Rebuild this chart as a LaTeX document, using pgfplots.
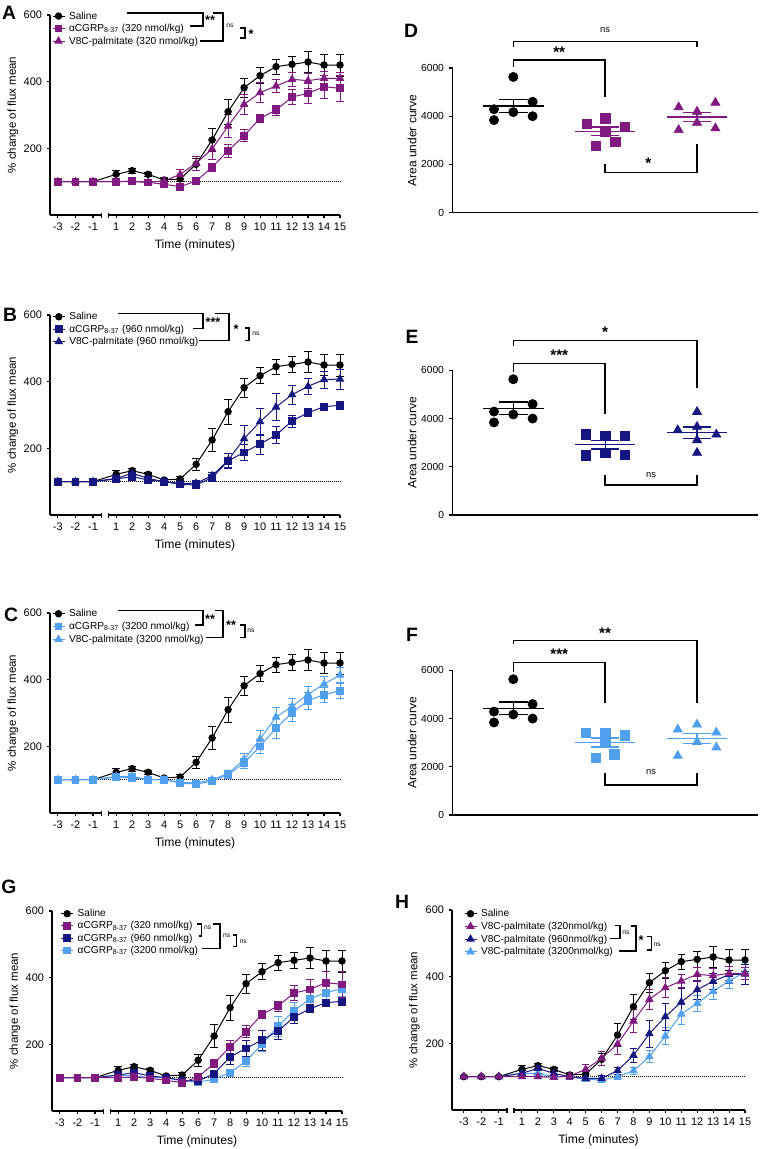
\documentclass[border=0pt]{standalone}
\usepackage{pgfplots}
\pgfplotsset{compat=1.18}
\usepackage{pgfplotstable}
\usepackage{fontspec}
\setmainfont{Liberation Sans}

\definecolor{cpur}{RGB}{128,26,128}
\definecolor{cnav}{RGB}{22,22,128}
\definecolor{clb}{RGB}{80,160,238}

% minutes -3,-2,-1 sit at -2.65,-1.55,-0.45 (broken time axis)
\pgfplotstableread{
x y e
-2.65 100 3
-1.55 100 3
-0.45 100 3
1 122 12
2 133 8
3 122 6
4 105 5
5 108 8
6 152 18
7 225 35
8 310 37
9 382 28
10 418 24
11 445 23
12 452 23
13 459 32
14 450 32
15 450 33
}\saline
\pgfplotstableread{
x y e
-2.65 100 3
-1.55 100 3
-0.45 100 3
1 100 3
2 102 4
3 98 4
4 92 5
5 85 5
6 102 6
7 143 12
8 193 20
9 238 18
10 290 12
11 315 15
12 354 22
13 365 30
14 385 35
15 380 38
}\cA
\pgfplotstableread{
x y e
-2.65 100 3
-1.55 100 3
-0.45 100 3
1 100 4
2 100 4
3 98 5
4 102 10
5 122 15
6 155 22
7 198 30
8 267 35
9 332 30
10 367 30
11 387 20
12 407 22
13 403 22
14 410 20
15 410 18
}\vA
\pgfplotstableread{
x y e
-2.65 100 3
-1.55 100 3
-0.45 100 3
1 108 10
2 115 12
3 105 10
4 100 8
5 92 8
6 90 8
7 112 10
8 162 22
9 188 25
10 213 30
11 240 25
12 282 18
13 307 12
14 325 10
15 329 12
}\cB
\pgfplotstableread{
x y e
-2.65 100 3
-1.55 100 3
-0.45 100 3
1 110 10
2 125 15
3 110 15
4 100 8
5 95 8
6 95 8
7 118 10
8 164 20
9 229 40
10 280 40
11 324 40
12 361 28
13 386 25
14 406 25
15 408 30
}\vB
\pgfplotstableread{
x y e
-2.65 100 3
-1.55 100 3
-0.45 100 3
1 108 8
2 105 8
3 100 6
4 100 6
5 90 6
6 87 6
7 95 8
8 115 10
9 150 15
10 200 20
11 255 30
12 301 25
13 337 25
14 355 22
15 367 22
}\cC
\pgfplotstableread{
x y e
-2.65 100 3
-1.55 100 3
-0.45 100 3
1 110 8
2 110 8
3 100 6
4 100 6
5 92 6
6 90 6
7 100 8
8 118 10
9 160 18
10 222 25
11 288 30
12 320 25
13 356 25
14 387 22
15 414 22
}\vC

\pgfplotsset{
  ts/.style={
    scale only axis, width=217.5pt, height=150pt,
    xmin=-3.14, xmax=15, ymin=0, ymax=600,
    axis lines=left, axis line style={-, line width=0.9pt},
    x axis line style={draw=none},
    xtick={-2.65,-1.55,-0.45,1,2,3,4,5,6,7,8,9,10,11,12,13,14,15},
    xticklabels={-3,-2,-1,1,2,3,4,5,6,7,8,9,10,11,12,13,14,15},
    ytick={200,400,600},
    tick align=outside, major tick length=2.5pt,
    every tick/.style={black, line width=0.8pt},
    ticklabel style={font=\fontsize{8.2}{9}\selectfont},
    /pgf/number format/assume math mode=true,
    xlabel={Time (minutes)},
    ylabel={\% change of flux mean},
    xlabel style={font=\fontsize{9.1}{10}\selectfont, at={(axis description cs:0.5,-0.15)}, anchor=center},
    ylabel style={font=\fontsize{8.6}{9}\selectfont, at={(axis description cs:-0.128,0.5)}, anchor=center},
    clip=false,
    legend cell align=left,
    legend image code/.code={\draw[mark repeat=2,mark phase=2] plot coordinates {(0pt,0pt) (4.5pt,0pt) (9pt,0pt)};},
    legend style={draw=none, fill=none, inner sep=0pt, outer sep=0pt, anchor=north west,
      font=\fontsize{7.6}{8}\selectfont, column sep=3pt,
      nodes={inner sep=0pt, text height=6pt, text depth=1.6pt}},
  },
  sal/.style={black, line width=0.75pt, mark=*, mark size=2.4pt},
  sq/.style={line width=0.75pt, mark=square*, mark size=2.5pt},
  tri/.style={line width=0.75pt, mark=triangle*, mark size=3pt},
  eb/.style={/pgfplots/error bars/y dir=both, /pgfplots/error bars/y explicit,
    /pgfplots/error bars/error bar style={line width=0.75pt},
    /pgfplots/error bars/error mark options={rotate=90, mark size=2.8pt, line width=0.75pt}},
  sc/.style={
    scale only axis, width=228.75pt, height=108.5pt,
    xmin=0.34, xmax=3.66, ymin=0, ymax=6000,
    axis lines=left, axis line style={-, line width=1pt},
    xtick=\empty, ytick={0,2000,4000,6000},
    tick align=outside, major tick length=3pt,
    every tick/.style={black, line width=0.8pt},
    ticklabel style={font=\fontsize{7.7}{9}\selectfont},
    /pgf/number format/assume math mode=true,
    /pgf/number format/1000 sep={},
    scaled y ticks=false,
    ylabel={Area under curve},
    ylabel style={font=\fontsize{9}{10}\selectfont, at={(axis description cs:-0.133,0.5)}, anchor=center},
    clip=false,
  },
  pts/.style={only marks, mark size=3.5pt},
  msem/.style={only marks, mark=-, mark size=22.7pt, mark options={line width=1pt},
    /pgfplots/error bars/y dir=both, /pgfplots/error bars/y explicit,
    /pgfplots/error bars/error bar style={line width=1pt},
    /pgfplots/error bars/error mark options={rotate=90, mark size=10.7pt, line width=1pt}},
}
\tikzset{
  br/.style={line width=1.1pt},
  ast/.style={font=\fontsize{11.5}{12}\selectfont\bfseries, inner sep=0pt},
  asl/.style={font=\fontsize{9.5}{10}\selectfont\bfseries, inner sep=0pt},
  nsl/.style={font=\fontsize{7}{7}\selectfont, inner sep=0pt},
  nss/.style={font=\fontsize{5}{5}\selectfont, inner sep=0pt},
  lbl/.style={font=\fontsize{14.5}{15}\selectfont\bfseries, inner sep=0pt},
}
\newcommand{\refline}{\addplot[forget plot, black, densely dotted, line width=0.5pt] coordinates {(-2.65,100) (15,100)};}
\newcommand{\brokenx}[1]{%
  \draw[line width=0.9pt] (axis cs:#1,0) -- (axis cs:0.06,0);
  \draw[line width=0.9pt] (axis cs:0.5,0) -- (axis cs:15,0);
  \draw[line width=0.8pt] (axis cs:0.06,0) ++(0pt,1.5pt) -- ++(0pt,-4pt);
  \draw[line width=0.8pt] (axis cs:0.5,0) ++(0pt,1.5pt) -- ++(0pt,-4pt);}

\begin{document}
\begin{tikzpicture}
\useasboundingbox (0,0) rectangle (573pt,-861.75pt);

% ---------- A ----------
\begin{axis}[ts, at={(37.5pt,-161.25pt)}, anchor=south west,
  legend style={at={(axis description cs:0.007,1.02)}, row sep=1.8pt}]
\refline
\addplot[forget plot, sal, eb] table[y error=e] {\saline};
\addplot[forget plot, tri, cpur, eb] table[y error=e] {\vA};
\addplot[forget plot, sq, cpur, eb] table[y error=e] {\cA};
\addlegendimage{sal}\addlegendentry{Saline}
\addlegendimage{sq, cpur}\addlegendentry{αCGRP\textsubscript{8-37} (320 nmol/kg)}
\addlegendimage{tri, cpur}\addlegendentry{V8C-palmitate (320 nmol/kg)}
\brokenx{-3.14}
\end{axis}

% ---------- B ----------
\begin{axis}[ts, at={(37.5pt,-386.25pt)}, anchor=south west,
  legend style={at={(axis description cs:0.008,1.0165)}, row sep=1.7pt}]
\refline
\addplot[forget plot, sal, eb] table[y error=e] {\saline};
\addplot[forget plot, tri, cnav, eb] table[y error=e] {\vB};
\addplot[forget plot, sq, cnav, eb] table[y error=e] {\cB};
\addlegendimage{sal}\addlegendentry{Saline}
\addlegendimage{sq, cnav}\addlegendentry{αCGRP\textsubscript{8-37} (960 nmol/kg)}
\addlegendimage{tri, cnav}\addlegendentry{V8C-palmitate (960 nmol/kg)}
\brokenx{-3.14}
\end{axis}

% ---------- C ----------
\begin{axis}[ts, at={(37.5pt,-609.75pt)}, anchor=south west,
  legend style={at={(axis description cs:0.007,1.0215)}, row sep=2pt}]
\refline
\addplot[forget plot, sal, eb] table[y error=e] {\saline};
\addplot[forget plot, tri, clb, eb] table[y error=e] {\vC};
\addplot[forget plot, sq, clb, eb] table[y error=e] {\cC};
\addlegendimage{sal}\addlegendentry{Saline}
\addlegendimage{sq, clb}\addlegendentry{αCGRP\textsubscript{8-37} (3200 nmol/kg)}
\addlegendimage{tri, clb}\addlegendentry{V8C-palmitate (3200 nmol/kg)}
\brokenx{-3.14}
\end{axis}

% ---------- G ----------
\begin{axis}[ts, at={(39pt,-833.25pt)}, anchor=south west,
  legend style={at={(axis description cs:0.03,1.0115)}, row sep=1.55pt}]
\refline
\addplot[forget plot, sal, eb] table[y error=e] {\saline};
\addplot[forget plot, sq, clb, eb] table[y error=e] {\cC};
\addplot[forget plot, sq, cnav, eb] table[y error=e] {\cB};
\addplot[forget plot, sq, cpur, eb] table[y error=e] {\cA};
\addlegendimage{sal}\addlegendentry{Saline}
\addlegendimage{sq, cpur}\addlegendentry{αCGRP\textsubscript{8-37} (320 nmol/kg)}
\addlegendimage{sq, cnav}\addlegendentry{αCGRP\textsubscript{8-37} (960 nmol/kg)}
\addlegendimage{sq, clb}\addlegendentry{αCGRP\textsubscript{8-37} (3200 nmol/kg)}
\brokenx{-3.14}
\end{axis}

% ---------- H ----------
\begin{axis}[ts, at={(339pt,-832.5pt)}, anchor=south west, width=219.75pt, xmin=-3.39,
  legend style={at={(axis description cs:0.041,1.0065)}, row sep=1.9pt}]
\refline
\addplot[forget plot, sal, eb] table[y error=e] {\saline};
\addplot[forget plot, tri, clb, eb] table[y error=e] {\vC};
\addplot[forget plot, tri, cnav, eb] table[y error=e] {\vB};
\addplot[forget plot, tri, cpur, eb] table[y error=e] {\vA};
\addlegendimage{sal}\addlegendentry{Saline}
\addlegendimage{tri, cpur}\addlegendentry{V8C-palmitate (320nmol/kg)}
\addlegendimage{tri, cnav}\addlegendentry{V8C-palmitate (960nmol/kg)}
\addlegendimage{tri, clb}\addlegendentry{V8C-palmitate (3200nmol/kg)}
\brokenx{-3.39}
\end{axis}

% ---------- D ----------
\begin{axis}[sc, at={(339.5pt,-159.5pt)}, anchor=south west]
\addplot[black, pts, mark=*] coordinates {(1,5630) (0.79,4290) (1.21,4600) (1,4170) (0.79,3840) (1.21,4000)};
\addplot[cpur, pts, mark=square*] coordinates {(1.8,3680) (2,3917) (2.21,3569) (2,3361) (1.9,2780) (2.11,2946)};
\addplot[cpur, pts, mark=triangle*, mark size=4pt] coordinates {(2.8,4373) (3,4191) (3.2,4564) (3,3734) (2.8,3432) (3.2,3502)};
\addplot[black, msem] coordinates {(1,4422) +- (0,264)};
\addplot[cpur, msem] coordinates {(2,3376) +- (0,179)};
\addplot[cpur, msem] coordinates {(3,3966) +- (0,194)};
\draw[br] (axis cs:1,6890) |- (axis cs:3,7095) -- (axis cs:3,6890);
\node[nsl] at (axis cs:2,7580) {ns};
\draw[br] (axis cs:1,6058) |- (axis cs:2,6336) -- (axis cs:2,4813);
\node[ast] at (axis cs:1.5,6640) {**};
\draw[br] (axis cs:2,2020) |- (axis cs:3,1660) -- (axis cs:3,2850);
\node[ast] at (axis cs:2.47,2030) {*};
\end{axis}

% ---------- E ----------
\begin{axis}[sc, at={(339.5pt,-386.25pt)}, anchor=south west]
\addplot[black, pts, mark=*] coordinates {(1,5630) (0.79,4290) (1.21,4600) (1,4170) (0.79,3840) (1.21,4000)};
\addplot[cnav, pts, mark=square*] coordinates {(1.79,3354) (2,3285) (2.21,3285) (1.79,2484) (2,2581) (2.21,2512)};
\addplot[cnav, pts, mark=triangle*, mark size=4pt] coordinates {(3,4279) (2.79,3520) (3,3658) (3.21,3340) (3,3106) (3,2581)};
\addplot[black, msem] coordinates {(1,4422) +- (0,264)};
\addplot[cnav, msem] coordinates {(2,2917) +- (0,176)};
\addplot[cnav, msem] coordinates {(3,3414) +- (0,232)};
\draw[br] (axis cs:1,6998) |- (axis cs:3,7246) -- (axis cs:3,5259);
\node[ast] at (axis cs:2,7590) {*};
\draw[br] (axis cs:1,5934) |- (axis cs:2,6281) -- (axis cs:2,4182);
\node[ast] at (axis cs:1.5,6625) {***};
\draw[br] (axis cs:2,1656) |- (axis cs:3,1242) -- (axis cs:3,1656);
\node[nsl] at (axis cs:2.5,1656) {ns};
\end{axis}

% ---------- F ----------
\begin{axis}[sc, at={(339.5pt,-611.25pt)}, anchor=south west]
\addplot[black, pts, mark=*] coordinates {(1,5630) (0.79,4290) (1.21,4600) (1,4170) (0.79,3840) (1.21,4000)};
\addplot[clb, pts, mark=square*] coordinates {(1.79,3424) (2,3424) (2.21,3313) (2,3010) (1.9,2373) (2.1,2513)};
\addplot[clb, pts, mark=triangle*, mark size=4pt] coordinates {(3,3755) (2.79,3548) (3.21,3424) (3,3035) (3.21,2803) (2.79,2455)};
\addplot[black, msem] coordinates {(1,4422) +- (0,264)};
\addplot[clb, msem] coordinates {(2,3010) +- (0,190)};
\addplot[clb, msem] coordinates {(3,3170) +- (0,201)};
\draw[br] (axis cs:1,7080) |- (axis cs:3,7246) -- (axis cs:3,4625);
\node[ast] at (axis cs:2,7548) {**};
\draw[br] (axis cs:1,5934) |- (axis cs:2,6323) -- (axis cs:2,4625);
\node[ast] at (axis cs:1.5,6654) {***};
\draw[br] (axis cs:2,1740) |- (axis cs:3,1242) -- (axis cs:3,1740);
\node[nsl] at (axis cs:2.5,1790) {ns};
\end{axis}

% ---------- panel letters and legend brackets (pixel grid) ----------
\begin{scope}[x=0.75pt, y=-0.75pt]
\node[lbl] at (9,13) {A};
\node[lbl] at (10,315) {B};
\node[lbl] at (11,615) {C};
\node[lbl] at (411,31) {D};
\node[lbl] at (412,337) {E};
\node[lbl] at (412,635) {F};
\node[lbl] at (9,887) {G};
\node[lbl] at (402,902) {H};
% A
\draw[line width=1pt] (127,13) -- (203,13) -- (203,26) -- (190,26);
\node[asl] at (210,20) {**};
\draw[line width=1pt] (213,13) -- (223,13) -- (223,41) -- (200,41);
\node[nss] at (230,26) {ns};
\draw[line width=1pt] (240,28) -- (245,28) -- (245,38) -- (240,38);
\node[asl] at (251,34) {*};
% B
\draw[line width=1pt] (118,313.3) -- (203,313.3) -- (203,328.3) -- (193,328.3);
\node[asl] at (213,322) {***};
\draw[line width=1pt] (215,313.3) -- (229,313.3) -- (229,340.7) -- (199,340.7);
\node[asl] at (236,329) {*};
\draw[line width=1pt] (245,328) -- (249,328) -- (249,340.7) -- (245,340.7);
\node[nss] at (256,334) {ns};
% C
\draw[line width=1pt] (118,610.7) -- (203,610.7) -- (203,625) -- (195,625);
\node[asl] at (210,619.5) {**};
\draw[line width=1pt] (215,610.7) -- (223,610.7) -- (223,637.7) -- (206,637.7);
\node[asl] at (231,625.5) {**};
\draw[line width=1pt] (240,625) -- (245,625) -- (245,637.3) -- (240,637.3);
\node[nss] at (251,631) {ns};
% G
\draw[line width=1pt] (196.7,924) -- (201.7,924) -- (201.7,936) -- (199,936);
\node[nss] at (207.7,927.3) {ns};
\draw[line width=1pt] (213.3,924) -- (220,924) -- (220,948.3) -- (201.7,948.3);
\node[nss] at (226.7,936) {ns};
\draw[line width=1pt] (233,935) -- (236.7,935) -- (236.7,946.7) -- (233,946.7);
\node[nss] at (243.3,941.7) {ns};
% H
\draw[line width=1pt] (615,925.7) -- (620,925.7) -- (620,938.3) -- (610,938.3);
\node[nss] at (626,932.7) {ns};
\draw[line width=1pt] (630.7,926) -- (636,926) -- (636,951) -- (619.3,951);
\node[asl] at (641,940) {*};
\draw[line width=1pt] (646.7,936.7) -- (651.7,936.7) -- (651.7,950) -- (646.7,950);
\node[nss] at (657.3,944.3) {ns};
\end{scope}
\end{tikzpicture}
\end{document}
